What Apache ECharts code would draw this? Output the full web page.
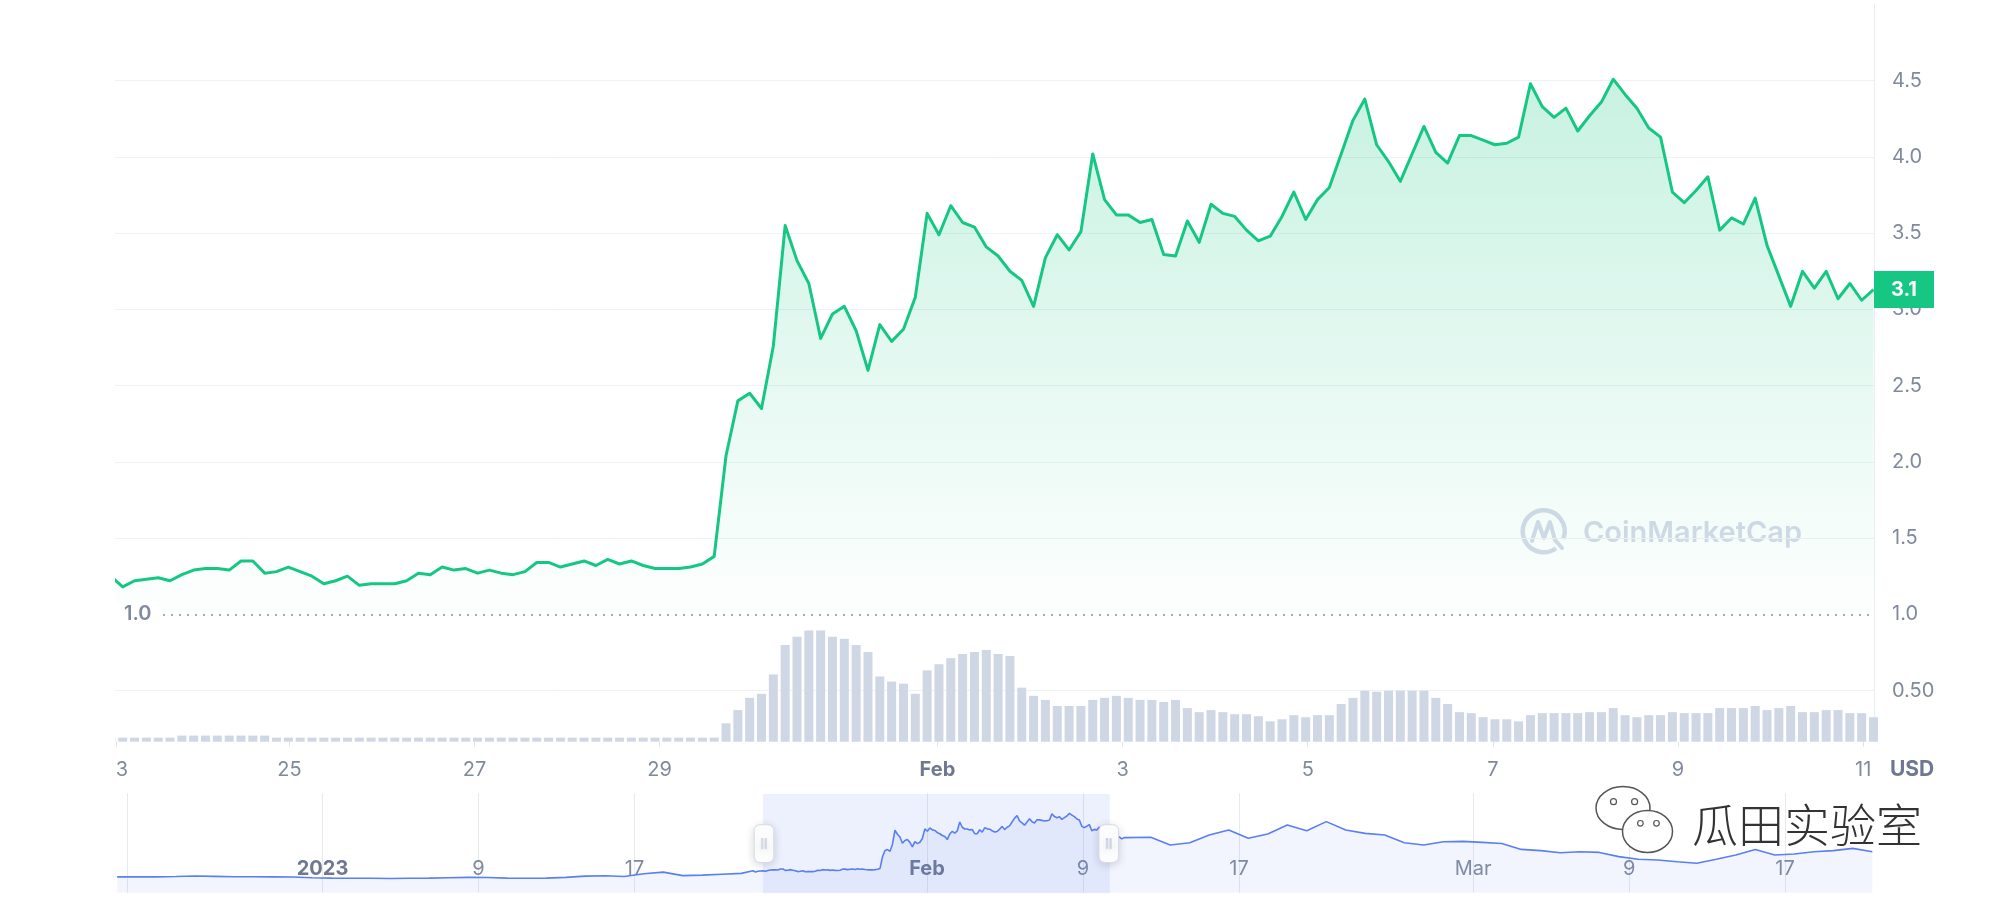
<!DOCTYPE html>
<html>
<head>
<meta charset="utf-8">
<script src="https://cdn.jsdelivr.net/npm/echarts@6/dist/echarts.min.js"></script>
<style>
  html, body { margin: 0; padding: 0; background: #ffffff; width: 2000px; height: 912px; overflow: hidden; }
  #chart { position: absolute; left: 115px; top: 0; width: 1885px; height: 912px; }
</style>
</head>
<body>
<div id="chart"></div>
<script>
// ===================== DATA =====================
// Main price samples (USD), one every 184 minutes starting at PRICE_START (local time)
const PRICE_START = '2023-01-23 01:44';
const PRICE_STEP_MIN = 184;
const price = [
  1.25, 1.18, 1.22, 1.23, 1.24, 1.22, 1.26, 1.29, 1.30, 1.30,
  1.29, 1.35, 1.35, 1.27, 1.28, 1.31, 1.28, 1.25, 1.20, 1.22,
  1.25, 1.19, 1.20, 1.20, 1.20, 1.22, 1.27, 1.26, 1.31, 1.29,
  1.30, 1.27, 1.29, 1.27, 1.26, 1.28, 1.34, 1.34, 1.31, 1.33,
  1.35, 1.32, 1.36, 1.33, 1.35, 1.32, 1.30, 1.30, 1.30, 1.31,
  1.33, 1.38, 2.04, 2.40, 2.45, 2.35, 2.76, 3.55, 3.32, 3.17,
  2.81, 2.97, 3.02, 2.86, 2.60, 2.90, 2.79, 2.87, 3.08, 3.63,
  3.49, 3.68, 3.57, 3.54, 3.41, 3.35, 3.25, 3.19, 3.02, 3.34,
  3.49, 3.39, 3.51, 4.02, 3.72, 3.62, 3.62, 3.57, 3.59, 3.36,
  3.35, 3.58, 3.44, 3.69, 3.63, 3.61, 3.52, 3.45, 3.48, 3.61,
  3.77, 3.59, 3.72, 3.80, 4.02, 4.24, 4.38, 4.08, 3.97, 3.84,
  4.02, 4.20, 4.03, 3.96, 4.14, 4.14, 4.11, 4.08, 4.09, 4.13,
  4.48, 4.33, 4.26, 4.32, 4.17, 4.27, 4.36, 4.51, 4.41, 4.32,
  4.19, 4.13, 3.77, 3.70, 3.78, 3.87, 3.52, 3.60, 3.56, 3.73,
  3.42, 3.22, 3.02, 3.25, 3.14, 3.25, 3.07, 3.17, 3.06, 3.13
];
// Volume for the same samples
const volume = [
  0.04, 0.04, 0.04, 0.04, 0.04, 0.04, 0.06, 0.06, 0.06, 0.06,
  0.06, 0.06, 0.06, 0.06, 0.04, 0.04, 0.04, 0.04, 0.04, 0.04,
  0.04, 0.04, 0.04, 0.04, 0.04, 0.04, 0.04, 0.04, 0.04, 0.04,
  0.04, 0.04, 0.04, 0.04, 0.04, 0.04, 0.04, 0.04, 0.04, 0.04,
  0.04, 0.04, 0.04, 0.04, 0.04, 0.04, 0.04, 0.04, 0.04, 0.04,
  0.04, 0.04, 0.18, 0.31, 0.43, 0.47, 0.66, 0.95, 1.03, 1.09,
  1.09, 1.03, 1.01, 0.95, 0.88, 0.64, 0.59, 0.57, 0.47, 0.70,
  0.76, 0.82, 0.86, 0.88, 0.90, 0.86, 0.84, 0.53, 0.45, 0.41,
  0.35, 0.35, 0.35, 0.41, 0.43, 0.45, 0.43, 0.41, 0.41, 0.39,
  0.41, 0.33, 0.29, 0.31, 0.29, 0.27, 0.27, 0.25, 0.20, 0.22,
  0.26, 0.24, 0.26, 0.26, 0.37, 0.43, 0.50, 0.49, 0.50, 0.50,
  0.50, 0.50, 0.43, 0.37, 0.29, 0.28, 0.24, 0.22, 0.22, 0.20,
  0.26, 0.28, 0.28, 0.28, 0.28, 0.29, 0.29, 0.33, 0.26, 0.24,
  0.26, 0.26, 0.29, 0.28, 0.28, 0.28, 0.33, 0.33, 0.33, 0.35,
  0.31, 0.33, 0.35, 0.29, 0.29, 0.31, 0.31, 0.28, 0.28, 0.24
];
// Navigator history outside the main window (daily samples)
const NAV_BEFORE_START = '2022-12-21 11:20';
const navBefore = [
  0.90, 0.91, 0.90, 0.92, 0.95, 0.93, 0.91, 0.91, 0.90, 0.89,
  0.85, 0.83, 0.82, 0.82, 0.81, 0.82, 0.83, 0.85, 0.87, 0.86,
  0.83, 0.82, 0.83, 0.87, 0.94, 0.96, 0.92, 1.08, 1.17, 0.97,
  1.00, 1.05, 1.10
];
const NAV_AFTER_START = '2023-02-12 11:20';
const navAfter = [
  3.15, 2.71, 2.84, 3.28, 3.56, 3.09, 3.34, 3.85, 3.52, 4.04,
  3.56, 3.37, 3.28, 2.84, 2.71, 2.90, 2.92, 2.86, 2.80, 2.46,
  2.39, 2.27, 2.33, 2.29, 2.05, 1.90, 1.86, 1.76, 1.67, 1.90,
  2.14, 2.46, 2.14, 2.20, 2.33, 2.39, 2.52, 2.33
];
// Tick labels
const mainTickDates = ['2023-01-23 03:00', '2023-01-25', '2023-01-27', '2023-01-29', '2023-02-01',
                       '2023-02-03', '2023-02-05', '2023-02-07', '2023-02-09', '2023-02-11'];
const mainTickLabels = ['23', '25', '27', '29', 'Feb', '3', '5', '7', '9', '11'];
const navTickDates = ['2022-12-22', '2023-01-01', '2023-01-09', '2023-01-17', '2023-02-01',
                      '2023-02-09', '2023-02-17', '2023-03-01', '2023-03-09', '2023-03-17'];
const navTickLabels = ['', '2023', '9', '17', 'Feb', '9', '17', 'Mar', '9', '17'];
const boldLabels = ['Feb', '2023'];
// Ranges
const WINDOW_START = '2023-01-23 02:48';
const WINDOW_END = '2023-02-11 02:48';
const ZOOM_MIN = '2022-12-18 19:00';
const ZOOM_MAX = '2023-03-24 22:45';
const NAV_MIN = '2022-12-21 11:20';
const NAV_MAX = '2023-03-21 11:20';

// ===================== HELPERS =====================
function ts(s) {
  const parts = s.split(' ');
  const d = parts[0].split('-').map(Number);
  const t = parts[1] ? parts[1].split(':').map(Number) : [0, 0];
  return new Date(d[0], d[1] - 1, d[2], t[0], t[1]).getTime();
}
const MIN_MS = 60000, DAY_MS = 86400000;
const t0 = ts(PRICE_START);
const priceData = price.map((v, i) => [t0 + i * PRICE_STEP_MIN * MIN_MS, v]);
const volumeData = volume.map((v, i) => [t0 + i * PRICE_STEP_MIN * MIN_MS, v]);
const nb0 = ts(NAV_BEFORE_START), na0 = ts(NAV_AFTER_START);
const navData = navBefore.map((v, i) => [nb0 + i * DAY_MS, v])
  .concat(priceData)
  .concat(navAfter.map((v, i) => [na0 + i * DAY_MS, v]));

const mainTicks = mainTickDates.map(ts);
const navTicks = navTickDates.map(ts);
const mainLabelMap = {}; mainTicks.forEach((t, i) => mainLabelMap[t] = mainTickLabels[i]);
const navLabelMap = {}; navTicks.forEach((t, i) => navLabelMap[t] = navTickLabels[i]);
function fmt(map) {
  return function (v) {
    let s = '';
    for (const k in map) { if (Math.abs(Number(k) - v) < 1000) { s = map[k]; break; } }
    return boldLabels.indexOf(s) >= 0 ? '{b|' + s + '}' : s;
  };
}

const FONT = 'Inter, "Noto Sans", sans-serif';
const LABEL_COLOR = '#808a9d';
const GRID_COLOR = '#eff2f5';
const GREEN = '#16c784';
const lastPrice = price[price.length - 1];
const CLEAR = 'rgba(0,0,0,0)';

// ===================== CHART =====================
const chart = echarts.init(document.getElementById('chart'), null, { renderer: 'canvas' });
const option = {
  animation: false,
  backgroundColor: '#ffffff',
  textStyle: { fontFamily: FONT },
  grid: [
    { left: 0, right: 126, top: 4.5, height: 609.8, containLabel: false, outerBoundsMode: 'none' },
    { left: 0, right: 126, top: 614.3, height: 127.4, containLabel: false, outerBoundsMode: 'none' },
    { left: 2.2, right: 127.7, top: 793.3, height: 99.4, containLabel: false, outerBoundsMode: 'none' }
  ],
  xAxis: [
    { type: 'value', gridIndex: 0, min: ts(ZOOM_MIN), max: ts(ZOOM_MAX), show: false, splitLine: { show: false } },
    {
      type: 'value', gridIndex: 1, min: ts(ZOOM_MIN), max: ts(ZOOM_MAX),
      axisLine: { show: false },
      axisTick: { show: true, customValues: mainTicks, length: 5, lineStyle: { color: '#dde1e9', width: 1 } },
      splitLine: { show: false },
      axisLabel: {
        customValues: mainTicks, formatter: fmt(mainLabelMap), margin: 18,
        color: LABEL_COLOR, fontSize: 20, fontFamily: FONT, hideOverlap: false,
        showMinLabel: true, showMaxLabel: true,
        rich: { b: { fontWeight: 'bold', color: '#6f7890', fontSize: 20, fontFamily: FONT } }
      },
      name: 'USD', nameLocation: 'end', nameGap: 16,
      nameTextStyle: { color: '#6f7890', fontWeight: 'bold', fontSize: 21, fontFamily: FONT,
                       align: 'left', verticalAlign: 'top', padding: [17, 0, 0, 0] }
    },
    {
      type: 'value', gridIndex: 2, min: ts(NAV_MIN), max: ts(NAV_MAX),
      axisLine: { show: false },
      axisTick: { show: false, customValues: navTicks },
      splitLine: { show: true, lineStyle: { color: '#e6e9f0', width: 1 } },
      axisLabel: {
        inside: true, customValues: navTicks.slice(1), formatter: fmt(navLabelMap), margin: 14,
        color: LABEL_COLOR, fontSize: 20, fontFamily: FONT, hideOverlap: false,
        rich: { b: { fontWeight: 'bold', color: '#6f7890', fontSize: 20, fontFamily: FONT } }
      }
    }
  ],
  yAxis: [
    {
      type: 'value', gridIndex: 0, position: 'right', min: 1, max: 5, interval: 0.5,
      axisLine: { show: true, onZero: false, lineStyle: { color: '#e9ecf1', width: 1 } },
      axisTick: { show: false },
      axisLabel: { color: LABEL_COLOR, fontSize: 20, fontFamily: FONT, margin: 18,
                   formatter: v => (v >= 4.99 ? '' : v.toFixed(1)) },
      splitLine: { show: true, lineStyle: { color: [CLEAR, GRID_COLOR, GRID_COLOR, GRID_COLOR, GRID_COLOR,
                                                     GRID_COLOR, GRID_COLOR, GRID_COLOR, CLEAR], width: 1 } }
    },
    {
      type: 'value', gridIndex: 1, position: 'right', min: 0, max: 1.25, interval: 0.5,
      axisLine: { show: true, onZero: false, lineStyle: { color: '#e9ecf1', width: 1 } },
      axisTick: { show: false },
      axisLabel: { color: LABEL_COLOR, fontSize: 20, fontFamily: FONT, margin: 18,
                   formatter: v => (Math.abs(v - 0.5) < 1e-9 ? '0.50' : '') },
      splitLine: { show: true, lineStyle: { color: [CLEAR, GRID_COLOR, CLEAR, CLEAR], width: 1 } }
    },
    { type: 'value', gridIndex: 2, min: 0, max: 5.65, show: false }
  ],
  dataZoom: [{
    type: 'slider', xAxisIndex: [0, 1], filterMode: 'none',
    startValue: ts(WINDOW_START), endValue: ts(WINDOW_END),
    left: 2.2, right: 127.7, top: 793.3, height: 99.4,
    showDataShadow: false, showDetail: false, brushSelect: false,
    moveHandleSize: 0, moveHandleStyle: { opacity: 0 },
    backgroundColor: CLEAR, borderColor: CLEAR, borderRadius: 0,
    fillerColor: 'rgba(92,124,240,0.11)',
    handleIcon: 'path://M3,0H7A3,3,0,0,1,10,3V16.3A3,3,0,0,1,7,19.3H3A3,3,0,0,1,0,16.3V3A3,3,0,0,1,3,0ZM3.7,7V12.3H4.5V7ZM5.5,7V12.3H6.3V7Z',
    handleSize: '38%',
    handleStyle: { color: '#ffffff', borderColor: '#d6dbe5', borderWidth: 1,
                   shadowBlur: 8, shadowColor: 'rgba(60,70,100,0.2)', shadowOffsetY: 2 },
    z: 4
  }],
  series: [
    {
      name: 'Price', type: 'line', xAxisIndex: 0, yAxisIndex: 0,
      data: priceData, showSymbol: false, symbol: 'none', clip: true,
      lineStyle: { color: GREEN, width: 3, join: 'round' },
      areaStyle: {
        origin: 'start',
        color: new echarts.graphic.LinearGradient(0, 0, 0, 1, [
          { offset: 0, color: 'rgba(22,199,132,0.34)' },
          { offset: 1, color: 'rgba(22,199,132,0.01)' }
        ])
      },
      markLine: {
        silent: true, symbol: ['none', 'none'], animation: false,
        data: [
          {
            yAxis: 1.0,
            lineStyle: { type: [2, 6], color: '#a3acbe', width: 2 },
            label: {
              show: true, position: 'insideStartTop', distance: [0, 0], verticalAlign: 'middle',
              formatter: '1.0', color: LABEL_COLOR, fontSize: 20, fontWeight: 600, fontFamily: FONT,
              backgroundColor: '#ffffff', padding: [2, 9, 2, 9]
            }
          },
          {
            yAxis: lastPrice,
            lineStyle: { color: CLEAR, width: 0 },
            label: {
              show: true, position: 'end', distance: 0,
              formatter: () => lastPrice.toFixed(1),
              color: '#ffffff', fontSize: 20, fontWeight: 'bold', fontFamily: FONT, lineHeight: 20,
              backgroundColor: GREEN, padding: [8.5, 17, 8.5, 17]
            }
          }
        ]
      },
      z: 3
    },
    {
      name: 'Volume', type: 'bar', xAxisIndex: 1, yAxisIndex: 1,
      data: volumeData, barWidth: 9, itemStyle: { color: '#cfd6e4' }
    },
    {
      name: 'Navigator', type: 'line', xAxisIndex: 2, yAxisIndex: 2,
      data: navData, showSymbol: false, symbol: 'none', silent: true,
      lineStyle: { color: '#5a7ef4', width: 1.6 },
      areaStyle: { origin: 'start', color: 'rgba(112,138,240,0.12)' }
    }
  ],
  graphic: [
    // CoinMarketCap watermark
    { type: 'arc', z: 0, silent: true,
      shape: { cx: 1428.7, cy: 531.3, r: 21, startAngle: 0.3 * Math.PI, endAngle: 0.12 * Math.PI, clockwise: true },
      style: { stroke: '#d5dae9', lineWidth: 4.5, fill: null } },
    { type: 'polyline', z: 0, silent: true,
      shape: { points: [[1417, 541], [1423, 522], [1429, 538], [1435, 522], [1440, 540], [1447, 548]] },
      style: { stroke: '#d5dae9', lineWidth: 4, fill: null, lineJoin: 'round', lineCap: 'round' } },
    { type: 'text', z: 0, silent: true, x: 1468, y: 533,
      style: { text: 'CoinMarketCap', fill: '#d5dae9', fontSize: 29, fontWeight: 600, fontFamily: FONT,
               verticalAlign: 'middle', align: 'left' } },
    // WeChat watermark
    { type: 'ellipse', z: 50, silent: true, shape: { cx: 1508, cy: 808, rx: 27, ry: 21.5 },
      style: { fill: 'rgba(255,255,255,0.9)', stroke: '#555555', lineWidth: 1.5 } },
    { type: 'circle', z: 51, silent: true, shape: { cx: 1498.5, cy: 801.7, r: 3 }, style: { fill: '#ffffff', stroke: '#555555', lineWidth: 1.2 } },
    { type: 'circle', z: 51, silent: true, shape: { cx: 1519.6, cy: 801.7, r: 3 }, style: { fill: '#ffffff', stroke: '#555555', lineWidth: 1.2 } },
    { type: 'ellipse', z: 52, silent: true, shape: { cx: 1532.5, cy: 831.5, rx: 25, ry: 21 },
      style: { fill: 'rgba(255,255,255,0.95)', stroke: '#555555', lineWidth: 1.5 } },
    { type: 'circle', z: 53, silent: true, shape: { cx: 1525.4, cy: 823.3, r: 2.8 }, style: { fill: '#ffffff', stroke: '#555555', lineWidth: 1.2 } },
    { type: 'circle', z: 53, silent: true, shape: { cx: 1541.5, cy: 823.3, r: 2.8 }, style: { fill: '#ffffff', stroke: '#555555', lineWidth: 1.2 } },
    { type: 'text', z: 54, silent: true, x: 1577, y: 825,
      style: { text: '瓜田实验室', fill: '#333333', fontSize: 46, fontWeight: 300,
               fontFamily: '"Noto Sans CJK SC", sans-serif', verticalAlign: 'middle', align: 'left',
               stroke: '#ffffff', lineWidth: 3, shadowBlur: 3, shadowColor: 'rgba(0,0,0,0.35)', shadowOffsetX: 1, shadowOffsetY: 1 } }
  ]
};
chart.setOption(option);
</script>
</body>
</html>
